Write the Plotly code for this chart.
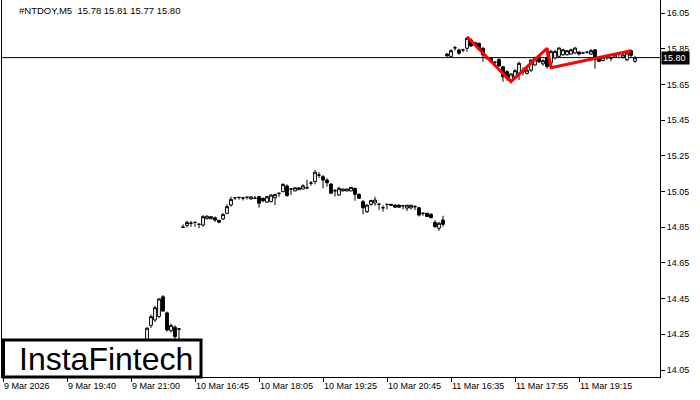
import plotly.graph_objects as go
import pandas as pd

# ---- time slots of the chart (5-minute bars, three sessions) ----
slot_sessions = [("2026-03-09 18:20", 45), ("2026-03-10 16:30", 66), ("2026-03-11 16:30", 60)]

# ---- visible bars, per session: start time and OHLC ----
s1_start = "2026-03-09 21:20"
s1_open  = [14.00, 14.30, 14.33, 14.35, 14.46, 14.37, 14.27, 14.29, 14.28]
s1_high  = [14.29, 14.36, 14.41, 14.452, 14.47, 14.377, 14.31, 14.30, 14.285]
s1_low   = [13.98, 14.285, 14.32, 14.34, 14.377, 14.265, 14.26, 14.22, 14.18]
s1_close = [14.284, 14.349, 14.399, 14.448, 14.38, 14.274, 14.30, 14.237, 14.28]

s2_start = "2026-03-10 16:30"
s2_open  = [14.851, 14.860, 14.872, 14.877, 14.866, 14.862, 14.897, 14.897, 14.903, 14.889,
            14.896, 14.928, 14.974, 15.015, 15.017, 15.013, 15.018, 15.008, 15.012, 15.021,
            15.012, 14.990, 14.993, 15.015, 15.040, 15.049, 15.081, 15.064, 15.053, 15.060,
            15.064, 15.070, 15.097, 15.105, 15.142, 15.133, 15.114, 15.092, 15.054, 15.030,
            15.053, 15.053, 15.053, 15.068, 15.034, 14.993, 14.937, 14.978, 14.985, 14.978,
            14.959, 14.978, 14.978, 14.974, 14.974, 14.970, 14.957, 14.958, 14.965, 14.959,
            14.928, 14.928, 14.922, 14.877, 14.844, 14.890]
s2_high  = [14.866, 14.885, 14.885, 14.880, 14.872, 14.918, 14.915, 14.911, 14.910, 14.890,
            14.928, 14.978, 15.021, 15.016, 15.018, 15.021, 15.019, 15.021, 15.025, 15.026,
            15.015, 15.026, 15.035, 15.036, 15.041, 15.096, 15.090, 15.068, 15.073, 15.072,
            15.090, 15.114, 15.109, 15.170, 15.158, 15.142, 15.124, 15.096, 15.064, 15.077,
            15.065, 15.065, 15.074, 15.070, 15.040, 15.002, 14.978, 15.002, 15.021, 14.987,
            14.972, 14.979, 14.979, 14.976, 14.976, 14.971, 14.975, 14.975, 14.974, 14.965,
            14.929, 14.930, 14.928, 14.890, 14.880, 14.914]
s2_low   = [14.848, 14.848, 14.852, 14.852, 14.844, 14.853, 14.894, 14.895, 14.880, 14.872,
            14.890, 14.922, 14.965, 15.003, 15.004, 15.000, 15.005, 15.006, 15.011, 14.959,
            14.990, 14.988, 14.990, 14.974, 15.020, 15.046, 15.021, 15.030, 15.052, 15.059,
            15.062, 15.068, 15.083, 15.090, 15.124, 15.068, 15.077, 15.040, 15.022, 15.027,
            15.052, 15.052, 15.052, 14.998, 15.010, 14.922, 14.930, 14.970, 14.970, 14.946,
            14.937, 14.950, 14.971, 14.960, 14.960, 14.950, 14.940, 14.950, 14.946, 14.910,
            14.914, 14.908, 14.900, 14.847, 14.829, 14.853]
s2_close = [14.850, 14.877, 14.872, 14.877, 14.866, 14.909, 14.912, 14.909, 14.890, 14.878,
            14.922, 14.965, 15.006, 15.015, 15.017, 15.013, 15.018, 15.020, 15.012, 14.984,
            14.998, 15.021, 15.030, 15.034, 15.040, 15.090, 15.027, 15.064, 15.071, 15.071,
            15.082, 15.070, 15.097, 15.158, 15.142, 15.114, 15.099, 15.040, 15.054, 15.068,
            15.064, 15.064, 15.073, 15.034, 15.012, 14.959, 14.974, 15.000, 15.002, 14.978,
            14.959, 14.978, 14.973, 14.962, 14.962, 14.970, 14.973, 14.973, 14.965, 14.918,
            14.928, 14.910, 14.903, 14.853, 14.872, 14.866]

s3_start = "2026-03-11 16:30"
s3_open  = [15.820, 15.805, 15.855, 15.843, 15.843, 15.852, 15.899, 15.884, 15.880, 15.852,
            15.796, 15.796, 15.774, 15.790, 15.749, 15.721, 15.675, 15.693, 15.712, 15.721,
            15.712, 15.730, 15.759, 15.805, 15.765, 15.800, 15.770, 15.798, 15.807, 15.816,
            15.816, 15.820, 15.826, 15.832, 15.826, 15.830, 15.820, 15.844, 15.798, 15.783,
            15.800, 15.798, 15.802, 15.820, 15.800, 15.788, 15.839, 15.78]
s3_high  = [15.825, 15.847, 15.866, 15.850, 15.850, 15.917, 15.908, 15.890, 15.884, 15.860,
            15.809, 15.800, 15.780, 15.795, 15.752, 15.730, 15.712, 15.735, 15.777, 15.745,
            15.740, 15.790, 15.805, 15.810, 15.790, 15.852, 15.844, 15.844, 15.856, 15.850,
            15.842, 15.850, 15.858, 15.833, 15.827, 15.836, 15.848, 15.845, 15.800, 15.805,
            15.810, 15.805, 15.818, 15.830, 15.820, 15.830, 15.845, 15.81]
s3_low   = [15.805, 15.805, 15.839, 15.815, 15.830, 15.833, 15.860, 15.868, 15.845, 15.777,
            15.788, 15.770, 15.760, 15.748, 15.665, 15.670, 15.665, 15.688, 15.675, 15.700,
            15.705, 15.720, 15.755, 15.770, 15.755, 15.738, 15.745, 15.790, 15.800, 15.810,
            15.812, 15.815, 15.820, 15.812, 15.825, 15.823, 15.815, 15.738, 15.775, 15.780,
            15.788, 15.780, 15.800, 15.805, 15.795, 15.780, 15.800, 15.77]
s3_close = [15.810, 15.839, 15.855, 15.825, 15.843, 15.908, 15.865, 15.871, 15.847, 15.815,
            15.796, 15.777, 15.774, 15.753, 15.693, 15.685, 15.708, 15.727, 15.768, 15.721,
            15.730, 15.787, 15.796, 15.777, 15.783, 15.750, 15.835, 15.835, 15.854, 15.844,
            15.839, 15.844, 15.854, 15.820, 15.826, 15.830, 15.839, 15.788, 15.779, 15.802,
            15.800, 15.798, 15.816, 15.820, 15.815, 15.826, 15.813, 15.80]

# ---- pattern line (red) ----
pattern_times  = ["2026-03-11 16:55", "2026-03-11 17:50", "2026-03-11 18:35", "2026-03-11 18:40", "2026-03-11 20:20"]
pattern_prices = [15.917, 15.665, 15.852, 15.744, 15.839]

# ---- axis labels ----
x_tick_times  = ["2026-03-09 18:20", "2026-03-09 19:40", "2026-03-09 21:00", "2026-03-10 16:45",
                 "2026-03-10 18:05", "2026-03-10 19:25", "2026-03-10 20:45", "2026-03-11 16:35",
                 "2026-03-11 17:55", "2026-03-11 19:15"]
x_tick_labels = ["9 Mar 2026", "9 Mar 19:40", "9 Mar 21:00", "10 Mar 16:45", "10 Mar 18:05",
                 "10 Mar 19:25", "10 Mar 20:45", "11 Mar 16:35", "11 Mar 17:55", "11 Mar 19:15"]
y_ticks = [14.05, 14.25, 14.45, 14.65, 14.85, 15.05, 15.25, 15.45, 15.65, 15.85, 16.05]
last_price = 15.80
title_text = "#NTDOY,M5  15.78 15.81 15.77 15.80"

FMT = "%Y-%m-%d %H:%M"

def times_from(start, n):
    t0 = pd.Timestamp(start)
    return [(t0 + pd.Timedelta(minutes=5 * k)).strftime(FMT) for k in range(n)]

slots = []
for st, n in slot_sessions:
    slots += times_from(st, n)

xs = times_from(s1_start, len(s1_open)) + times_from(s2_start, len(s2_open)) + times_from(s3_start, len(s3_open))
O = s1_open + s2_open + s3_open
H = s1_high + s2_high + s3_high
L = s1_low + s2_low + s3_low
C = s1_close + s2_close + s3_close

fig = go.Figure()
fig.add_trace(go.Candlestick(
    x=xs, open=O, high=H, low=L, close=C,
    increasing=dict(line=dict(color="black", width=1), fillcolor="white"),
    decreasing=dict(line=dict(color="black", width=1), fillcolor="black"),
    whiskerwidth=0, showlegend=False, hoverinfo="skip"))
fig.add_trace(go.Scatter(x=pattern_times, y=pattern_prices, mode="lines",
                         line=dict(color="#ff0000", width=3), showlegend=False, hoverinfo="skip"))

font = "Liberation Sans"
fig.update_layout(
    width=700, height=400, margin=dict(l=2, r=40, t=0, b=23),
    paper_bgcolor="white", plot_bgcolor="white",
    boxgap=0.3, boxgroupgap=0,
    font=dict(family=font, size=9, color="black"),
    xaxis=dict(type="category", categoryorder="array", categoryarray=slots,
               range=[-0.25, 164.25], rangeslider=dict(visible=False),
               tickmode="array", tickvals=x_tick_times, ticktext=x_tick_labels,
               ticks="outside", ticklen=4, tickcolor="black", ticklabelposition="outside right",
               showgrid=False, zeroline=False, showline=True, linecolor="black", linewidth=1,
               tickfont=dict(family=font, size=9, color="black")),
    yaxis=dict(side="right", range=[14.0108, 16.1228], tickmode="array",
               tickvals=y_ticks, ticktext=["%.2f" % v for v in y_ticks],
               ticks="outside", ticklen=4, tickcolor="black",
               showgrid=False, zeroline=False, showline=True, mirror=True,
               linecolor="black", linewidth=1,
               tickfont=dict(family=font, size=9, color="black")),
)

fig.add_shape(type="line", xref="paper", x0=0, x1=1, yref="y", y0=last_price, y1=last_price,
              line=dict(color="black", width=1), layer="below")
fig.add_annotation(xref="paper", x=1, xanchor="left", yref="y", y=last_price, yanchor="middle",
                   text="%.2f&nbsp;" % last_price, showarrow=False, bgcolor="black",
                   font=dict(family=font, size=9, color="white"), borderpad=1, xshift=1)

fig.add_annotation(xref="paper", x=15 / 658, xanchor="left", yref="paper", y=1 - 10 / 377,
                   yanchor="middle", text=title_text, showarrow=False,
                   font=dict(family=font, size=9.5, color="black"))

# logo box
fig.add_shape(type="rect", xref="paper", yref="paper", x0=1.5 / 658, x1=199 / 658,
              y0=0, y1=37 / 377, fillcolor="white", line=dict(color="black", width=3), layer="above")
fig.add_annotation(xref="paper", yref="paper", x=104 / 658, y=18 / 377, xanchor="center",
                   yanchor="middle", text="InstaFintech", showarrow=False,
                   font=dict(family=font, size=32, color="black"))

fig.write_html("out.html", config={"displayModeBar": False},
               post_script="document.body.style.margin='0';")
